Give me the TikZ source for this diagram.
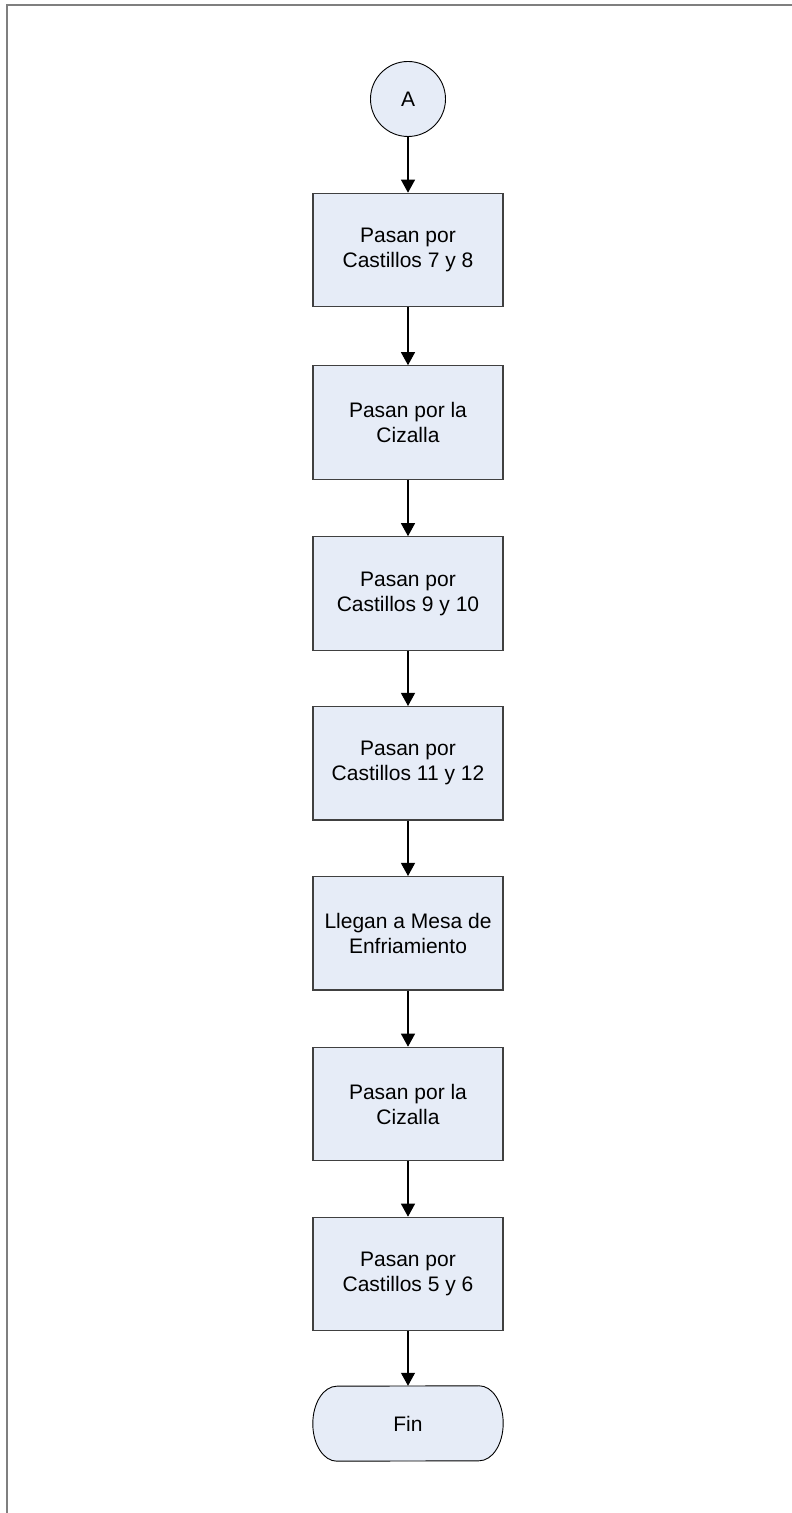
\documentclass[tikz,border=0pt]{standalone}
\usepackage{fontspec}
\setmainfont{Liberation Sans}
\usetikzlibrary{arrows.meta}
\definecolor{boxfill}{HTML}{E6ECF7}
\definecolor{boxline}{HTML}{404040}
\definecolor{framegray}{HTML}{7F7F7F}
\tikzset{
  procbox/.style={draw=boxline, line width=1.1pt, fill=boxfill, minimum width=190pt, minimum height=113.5pt, inner sep=0pt, align=center, font=\fontsize{21}{25}\selectfont},
  connbox/.style={circle, draw=black, line width=0.9pt, fill=boxfill, minimum size=75pt, inner sep=0pt, font=\fontsize{21}{25}\selectfont},
  termbox/.style={minimum width=190pt, minimum height=75pt, inner sep=0pt, font=\fontsize{21}{25}\selectfont},
  flow/.style={draw=black, line width=1.1pt, -{Triangle[length=13pt,width=14pt]}}
}
\begin{document}
\begin{tikzpicture}[x=1pt,y=1pt]
\useasboundingbox (0,0) rectangle (792,1513);
\draw[framegray, line width=1.5pt] (7,0) -- (7,1508) -- (792,1508);
\node[connbox] (a) at (408,1414) {A};
\node[procbox] (b1) at (408,1263) {Pasan por\\Castillos 7 y 8};
\node[procbox] (b2) at (408,1090.5) {Pasan por la\\Cizalla};
\node[procbox] (b3) at (408,919.5) {Pasan por\\Castillos 9 y 10};
\node[procbox] (b4) at (408,749.7) {Pasan por\\Castillos 11 y 12};
\node[procbox] (b5) at (408,579.7) {Llegan a Mesa de\\Enfriamiento};
\node[procbox] (b6) at (408,409) {Pasan por la\\Cizalla};
\node[procbox] (b7) at (408,239) {Pasan por\\Castillos 5 y 6};
\node[termbox] (fin) at (408,89.5) {};
\draw[black, line width=0.9pt, fill=boxfill]
  ([xshift=-24pt]fin.north east) arc[start angle=90, end angle=-90, x radius=24pt, y radius=37.5pt]
  -- ([xshift=24pt]fin.south west) arc[start angle=270, end angle=90, x radius=24pt, y radius=37.5pt]
  -- cycle;
\node[termbox] at (fin.center) {Fin};
\draw[flow] (a) -- (b1);
\draw[flow] (b1) -- (b2);
\draw[flow] (b2) -- (b3);
\draw[flow] (b3) -- (b4);
\draw[flow] (b4) -- (b5);
\draw[flow] (b5) -- (b6);
\draw[flow] (b6) -- (b7);
\draw[flow] (b7) -- (fin);
\end{tikzpicture}
\end{document}
